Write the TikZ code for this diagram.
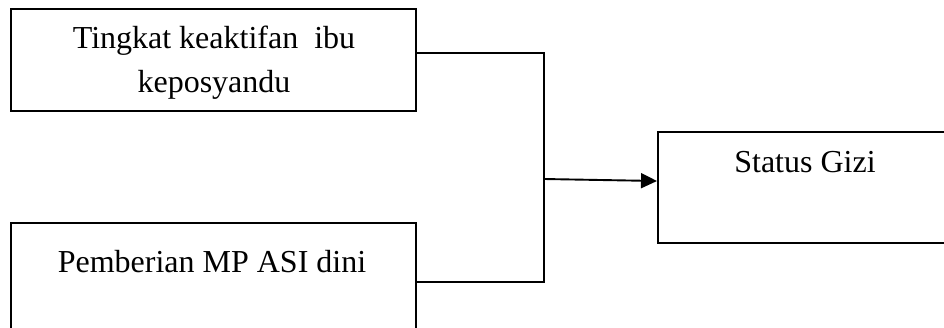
\documentclass[tikz,border=0pt]{standalone}
\usepackage{fontspec}
\setmainfont{Liberation Serif}
\usetikzlibrary{arrows.meta}
\tikzset{
  box/.style={draw, line width=1.9pt, rectangle, inner sep=0pt, anchor=north west},
  lbl/.style={anchor=base, inner sep=0pt, font=\fontsize{32}{44}\selectfont},
  conn/.style={line width=1.9pt},
}
\begin{document}
\begin{tikzpicture}[x=1pt,y=1pt]
\useasboundingbox (0,0) rectangle (944,-327);
\clip (0,0) rectangle (944,-327);
\fill[white] (0,0) rectangle (944,-327);
\node[box, minimum width=405pt, minimum height=102pt] (b1) at (10,-8) {};
\node[box, minimum width=405pt, minimum height=115pt] (b2) at (10,-222) {};
\node[box, minimum width=300pt, minimum height=111pt] (b3) at (657,-131) {};
\node[lbl] (t1a) at (214,-48) {Tingkat keaktifan\ \ ibu};
\node[lbl] (t1b) at (214,-92) {keposyandu};
\node[lbl] (t2) at (212,-272) {Pemberian MP ASI dini};
\node[lbl] (t3) at (805,-172) {Status Gizi};
\coordinate (j1) at (544,-53);
\coordinate (j2) at (544,-282);
\coordinate (jm) at (544,-179);
\coordinate (e3) at (657,-181);
\draw[conn] (b1.east |- j1) -- (j1) -- (j2) -- (b2.east |- j2);
\draw[conn, -{Triangle[length=16pt,width=15pt]}] (jm) -- (e3);
\end{tikzpicture}
\end{document}
